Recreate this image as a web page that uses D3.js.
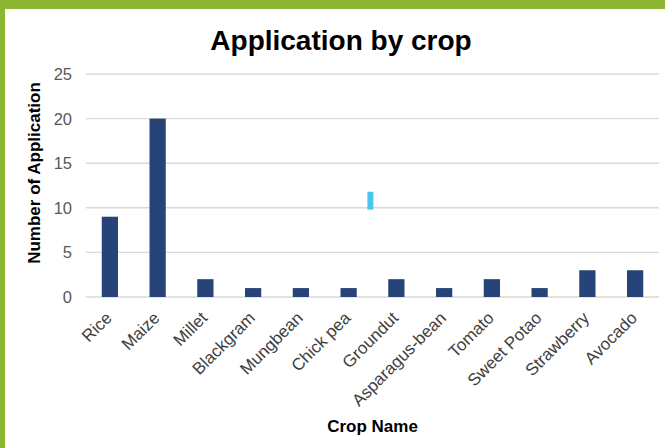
<!DOCTYPE html>
<html>
<head>
<meta charset="utf-8">
<script src="https://cdn.jsdelivr.net/npm/d3@7"></script>
<style>
  body { margin: 0; background: #fff; }
  svg { display: block; font-family: "Liberation Sans", Arial, sans-serif; }
</style>
</head>
<body>
<svg id="chart"></svg>
<script>
const width = 665;
const height = 448;

// data
const crops = ["Rice", "Maize", "Millet", "Blackgram", "Mungbean", "Chick pea",
    "Groundut", "Asparagus-bean", "Tomato", "Sweet Potao", "Strawberry", "Avocado"];
const applications = [9, 20, 2, 1, 1, 1, 2, 1, 2, 1, 3, 3];
const yTicks = [0, 5, 10, 15, 20, 25];

const margin = { top: 74, right: 6, bottom: 151, left: 86 };

const svg = d3.select("#chart")
    .attr("width", width)
    .attr("height", height);

// white card with green frame on top / left
svg.append("rect").attr("width", width).attr("height", height).attr("fill", "#fff");
svg.append("rect").attr("x", 0).attr("y", 0).attr("width", width).attr("height", 9).attr("fill", "#8bb631");
svg.append("rect").attr("x", 0).attr("y", 0).attr("width", 5).attr("height", height).attr("fill", "#8bb631");

const x = d3.scaleBand()
    .domain(crops)
    .range([margin.left, width - margin.right])
    .paddingInner(0.66)
    .paddingOuter(0.33);

const y = d3.scaleLinear()
    .domain([0, 25])
    .range([height - margin.bottom, margin.top]);

// gridlines
svg.append("g")
    .selectAll("line")
    .data(yTicks)
    .join("line")
    .attr("x1", margin.left)
    .attr("x2", width - margin.right)
    .attr("y1", d => y(d))
    .attr("y2", d => y(d))
    .attr("stroke", "#d9d9d9")
    .attr("stroke-width", 1.4);

// y tick labels
svg.append("g")
    .selectAll("text")
    .data(yTicks)
    .join("text")
    .attr("x", 72)
    .attr("y", d => y(d))
    .attr("dy", "0.36em")
    .attr("text-anchor", "end")
    .attr("font-size", 16.5)
    .attr("fill", "#595959")
    .text(d => d);

// bars
svg.append("g")
    .selectAll("rect")
    .data(crops)
    .join("rect")
    .attr("x", d => x(d))
    .attr("width", x.bandwidth())
    .attr("y", (d, i) => y(applications[i]))
    .attr("height", (d, i) => y(0) - y(applications[i]))
    .attr("fill", "#264478");

// stray cyan marker in the original screenshot
svg.append("rect")
    .attr("x", x("Chick pea") + x.step() * 0.5 + 3)
    .attr("y", y(11.8))
    .attr("width", 6)
    .attr("height", y(9.8) - y(11.8))
    .attr("fill", "#4cc4f2");

// x labels, rotated
svg.append("g")
    .selectAll("text")
    .data(crops)
    .join("text")
    .attr("transform", d => `translate(${x(d) + x.bandwidth() / 2 + 3},${y(0) + 22}) rotate(-45)`)
    .attr("text-anchor", "end")
    .attr("font-size", 17)
    .attr("fill", "#404040")
    .text(d => d);

// title
svg.append("text")
    .attr("x", 341)
    .attr("y", 50)
    .attr("text-anchor", "middle")
    .attr("font-size", 28)
    .attr("font-weight", "bold")
    .attr("fill", "#000")
    .text("Application by crop");

// axis titles
svg.append("text")
    .attr("transform", `translate(40,173) rotate(-90)`)
    .attr("text-anchor", "middle")
    .attr("font-size", 17)
    .attr("font-weight", "bold")
    .attr("fill", "#000")
    .text("Number of Application");

svg.append("text")
    .attr("x", (margin.left + width - margin.right) / 2)
    .attr("y", 432)
    .attr("text-anchor", "middle")
    .attr("font-size", 17)
    .attr("font-weight", "bold")
    .attr("fill", "#000")
    .text("Crop Name");
</script>
</body>
</html>
